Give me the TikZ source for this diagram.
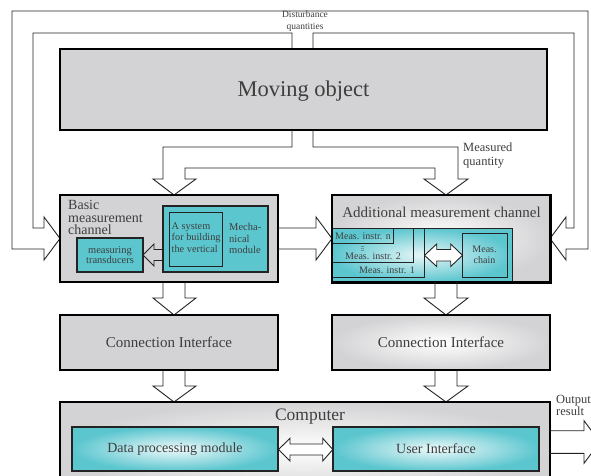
\documentclass[tikz,border=0pt]{standalone}
\usepackage{fontspec}
\setmainfont{Liberation Serif}
\usetikzlibrary{fit}
\definecolor{boxgrey}{RGB}{211,211,213}
\definecolor{tealc}{RGB}{92,198,207}
\definecolor{txt}{RGB}{62,62,62}
\definecolor{ln}{RGB}{35,35,35}
\newcommand\myfs[2]{\fontsize{#1}{#2}\selectfont}
\tikzset{
  thickbox/.style={draw=black, line width=2.6pt},
  tealbox/.style={draw=ln, line width=1.4pt, fill=tealc},
  thinbox/.style={draw=ln, line width=0.9pt},
  hollow/.style={draw=ln, line width=0.9pt, line join=miter},
  lbl/.style={text=txt, inner sep=0pt},
  fbox/.style={inner sep=0pt},
}
\begin{document}
\begin{tikzpicture}[x=1pt,y=-1pt]
\clip (0,0) rectangle (591,476);
\fill[white] (0,0) rectangle (591,476);

% ---------- feedback (disturbance) hollow pipe ----------
\draw[hollow] (292,49) -- (292,33) -- (33,33) -- (33,228) -- (44,228) -- (44,217)
  -- (60,238.5) -- (44,260) -- (44,249) -- (12,249) -- (12,11) -- (588,11)
  -- (588,249) -- (566,249) -- (566,260) -- (550,238.5) -- (566,217) -- (566,228)
  -- (574,228) -- (574,33) -- (313,33) -- (313,49);
\node[lbl, font=\myfs{9.5}{12}, align=center] (dist) at (305,21) {Disturbance\\quantities};

% ---------- moving object ----------
\node[fbox, fit={(60,49)(547,130)}, thickbox, fill=boxgrey] (mo) {};
\node[lbl, font=\myfs{22.5}{26}] (mot) at ([yshift=-2pt]mo.center) {Moving object};

% ---------- T pipe from moving object ----------
\draw[hollow] (292,130) -- (292,147) -- (163,147) -- (163,179) -- (153,179) -- (174,195)
  -- (196,179) -- (185,179) -- (185,168) -- (435,168) -- (435,179) -- (424,179)
  -- (446,195) -- (468,179) -- (458,179) -- (458,147) -- (313,147) -- (313,130);
\node[lbl, font=\myfs{12.5}{14.4}, align=left, anchor=west] (mq) at (463,155.5) {Measured\\quantity};

% ---------- basic measurement channel ----------
\node[fbox, fit={(60,195)(278,282)}, thickbox, fill=boxgrey] (bmc) {};
\node[lbl, font=\myfs{14}{12.5}, align=left, anchor=west] (bmct) at (68,217.5) {Basic\\measurement\\channel};
\node[fbox, fit={(163,206)(268,272)}, tealbox] (mech) {};
\node[fbox, fit={(169,212)(222,266)}, thinbox] (sys) {};
\node[lbl, font=\myfs{10.3}{11.5}, align=left, anchor=west] (syst) at (171.5,237.5) {A system\\for building\\the vertical};
\node[lbl, font=\myfs{10.5}{11.8}, align=left, anchor=west] (mecht) at (229,238.5) {Mecha-\\nical\\module};
\node[fbox, fit={(77,238)(143,272)}, tealbox] (trans) {};
\node[lbl, font=\myfs{10.5}{10.7}, align=center] (transt) at (trans.center) {measuring\\transducers};
\draw[hollow] (163,249.5) -- (154,249.5) -- (154,244) -- (143,255) -- (154,266) -- (154,260.5) -- (163,260.5);

% ---------- basic -> additional ----------
\draw[hollow] (278,228) -- (316,228) -- (316,217) -- (332,238.5) -- (316,260) -- (316,249) -- (278,249);

% ---------- additional measurement channel ----------
\node[fbox, fit={(332,195)(550,282)}, inner color=white, outer color=boxgrey] (amc) {};
\node[lbl, font=\myfs{15}{18}] (amct) at (441.5,212) {Additional measurement channel};
\path[inner color=white!85!tealc, outer color=tealc] (332,228) rectangle (512,282);
\draw[thinbox] (332,228) -- (512,228) -- (512,282);
\node[fbox, fit={(332,228)(424,277)}, thinbox] (mi1) {};
\node[fbox, fit={(332,228)(413,262)}, thinbox] (mi2) {};
\node[fbox, fit={(332,228)(393,243)}, thinbox] (min) {};
\node[lbl, font=\myfs{10}{11}] (mint) at (363,236) {Meas. instr. n};
\node[lbl, font=\myfs{9}{9}] (dots) at (362.7,249.3) {\scalebox{0.55}[1.1]{$\equiv$}};
\node[lbl, font=\myfs{10}{11}] (mi2t) at (373,256.5) {Meas. instr. 2};
\node[lbl, font=\myfs{10}{11}] (mi1t) at (387,270.5) {Meas. instr. 1};
\node[fbox, fit={(462,233)(507,277)}, thinbox] (chain) {};
\node[lbl, font=\myfs{10}{10.8}, align=center] (chaint) at (chain.center) {Meas.\\chain};
\draw[hollow, fill=white] (424.5,255.3) -- (436.7,244) -- (436.7,249.5) -- (450.7,249.5) -- (450.7,244)
  -- (462.5,255.3) -- (450.7,266.5) -- (450.7,261) -- (436.7,261) -- (436.7,266.5) -- cycle;
\draw[thickbox] (amc.north west) rectangle (amc.south east);

% ---------- down arrows to connection interfaces ----------
\draw[hollow] (163,282) -- (163,298) -- (153,298) -- (174,315) -- (196,298) -- (185,298) -- (185,282);
\draw[hollow] (435,282) -- (435,298) -- (424,298) -- (446,315) -- (468,298) -- (457,298) -- (457,282);

% ---------- connection interfaces ----------
\node[fbox, fit={(60,315)(278,370)}, thickbox, fill=boxgrey] (ci1) {};
\node[lbl, font=\myfs{15}{18}] (ci1t) at (ci1.center) {Connection Interface};
\node[fbox, fit={(332,315)(550,370)}, thickbox, inner color=white, outer color=boxgrey] (ci2) {};
\node[lbl, font=\myfs{15}{18}] (ci2t) at (ci2.center) {Connection Interface};

% ---------- down arrows to computer ----------
\draw[hollow] (163,370) -- (163,386) -- (153,386) -- (174,402) -- (196,386) -- (185,386) -- (185,370);
\draw[hollow] (435,370) -- (435,386) -- (424,386) -- (446,402) -- (468,386) -- (457,386) -- (457,370);

% ---------- computer ----------
\node[fbox, fit={(60,402)(550,495)}, thickbox, inner color=white, outer color=boxgrey] (comp) {};
\node[lbl, font=\myfs{17.5}{20}] (compt) at (310,417) {Computer};
\node[fbox, fit={(72,427)(278,471)}, draw=ln, line width=1.5pt, inner color=white!90!tealc, outer color=tealc] (dpm) {};
\node[lbl, font=\myfs{14}{16}] (dpmt) at (dpm.center) {Data processing module};
\node[fbox, fit={(333,427)(539,471)}, draw=ln, line width=1.5pt, inner color=white!90!tealc, outer color=tealc] (ui) {};
\node[lbl, font=\myfs{14}{16}] (uit) at (ui.center) {User Interface};
\draw[hollow, fill=white] (278.5,449.5) -- (290,438.3) -- (290,444) -- (322.7,444) -- (322.7,438.3)
  -- (332.8,449.5) -- (322.7,461) -- (322.7,455) -- (290,455) -- (290,461) -- cycle;

% ---------- output ----------
\draw[hollow] (550,430.7) -- (584,430.7) -- (584,420.7) -- (600,442) -- (584,463.3) -- (584,453.3) -- (550,453.3);
\node[lbl, font=\myfs{12.5}{12.7}, align=left, anchor=west] (outt) at (556,405.5) {Output\\result};
\end{tikzpicture}
\end{document}
